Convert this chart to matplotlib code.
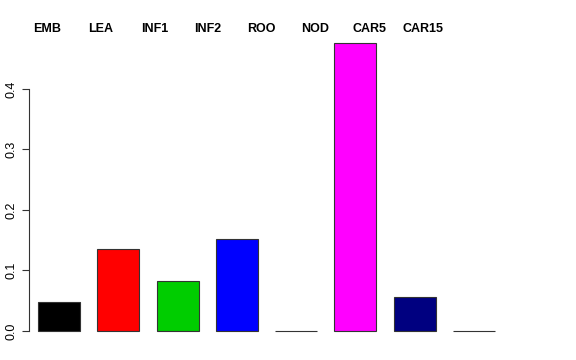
import matplotlib
matplotlib.use("Agg")
import matplotlib.pyplot as plt
import matplotlib.transforms as mtransforms

categories = ["EMB", "LEA", "INF1", "INF2", "ROO", "NOD", "CAR5", "CAR15"]
values = [0.048, 0.1355, 0.083, 0.152, 0.0, 0.476, 0.056, 0.0]
colors = ["#000000", "#FF0000", "#00CD00", "#0000FF", "#00FFFF", "#FF00FF", "#000080", "#BEBEBE"]
yticks = [0.0, 0.1, 0.2, 0.3, 0.4]
ytick_labels = ["0.0", "0.1", "0.2", "0.3", "0.4"]

plt.rcParams['font.family'] = ['Liberation Sans', 'DejaVu Sans']

fig = plt.figure(figsize=(5.76, 3.6), dpi=100)
W, H = 576, 360
left_px, right_px = 29, 504
top_px, bot_px = 31.5, 342.5
ax = fig.add_axes([left_px / W, 1 - bot_px / H, (right_px - left_px) / W, (bot_px - top_px) / H])

x = list(range(len(categories)))
ax.bar(x, values, width=0.71, color=colors, edgecolor="#333333", linewidth=0.8)

ax.set_xlim(-0.507, len(categories) - 1 + 0.507)
ax.set_ylim(-0.019, 0.495)

for s in ["top", "right", "bottom"]:
    ax.spines[s].set_visible(False)
ax.spines["left"].set_bounds(0, 0.4)
ax.spines["left"].set_linewidth(0.8)
ax.spines["left"].set_color("#333333")
ax.set_xticks([])
ax.set_yticks(yticks)
ax.set_yticklabels(ytick_labels, rotation=90, va="center", fontsize=9)
ax.tick_params(axis="y", length=5, width=0.8, pad=3, color="#333333")

trans = mtransforms.blended_transform_factory(ax.transData, ax.transAxes)
for i, c in enumerate(categories):
    ax.text(-0.2 + 0.905 * i, 1.008, c, transform=trans, ha="center", va="center",
            fontsize=9, fontweight="bold")

fig.savefig("out.png", dpi=100)
